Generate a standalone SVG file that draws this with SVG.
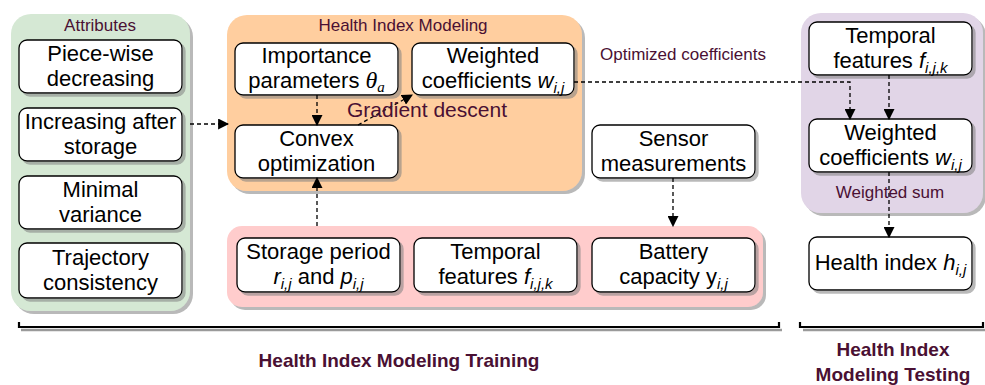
<svg xmlns="http://www.w3.org/2000/svg" width="985" height="385" viewBox="0 0 985 385">
<defs>
<filter id="sh" x="-5%" y="-5%" width="115%" height="120%">
<feDropShadow dx="3" dy="3" stdDeviation="0.4" flood-color="#808080" flood-opacity="0.55"/>
</filter>
<marker id="ahb" viewBox="0 0 10 10" refX="9" refY="5" markerWidth="11" markerHeight="11" markerUnits="userSpaceOnUse" orient="auto">
<path d="M0,0 L10,5 L0,10 z" fill="#000"/>
</marker>
</defs>
<style>
.node{fill:#fff;stroke:#000;stroke-width:1.3;filter:url(#sh)}
.t{font-family:"Liberation Sans",Arial,sans-serif;font-size:22px;fill:#000;text-anchor:middle}
.lab{font-family:"Liberation Sans",Arial,sans-serif;font-size:17px;fill:#4a1033;text-anchor:middle}
.big{font-family:"Liberation Sans",Arial,sans-serif;font-size:19px;font-weight:bold;fill:#4a1033;text-anchor:middle}
.it{font-style:italic}
.sub{font-style:italic;font-size:15px}
.math{font-family:"Liberation Serif","DejaVu Serif",serif;font-style:italic}
.conn{fill:none;stroke:#000;stroke-width:1.3;stroke-dasharray:4 3;marker-end:url(#ahb)}
.br{fill:none;stroke:#000;stroke-width:2.2}
.brs{fill:none;stroke:#9a9a9a;stroke-width:2.6}
</style>

<!-- containers -->
<g id="attributes">
<rect x="11" y="14" width="179" height="297" rx="20" fill="#d5e8d4" filter="url(#sh)"/>
<text class="lab" x="100" y="31">Attributes</text>
</g>
<g id="health-index-modeling">
<rect x="227" y="15" width="355" height="176" rx="20" fill="#ffce9f" filter="url(#sh)"/>
<text class="lab" x="403" y="31">Health Index Modeling</text>
</g>
<g id="data-group">
<rect x="227" y="226" width="536" height="81" rx="15" fill="#ffcccc" filter="url(#sh)"/>
</g>
<g id="testing-group">
<rect x="801" y="13" width="182" height="200" rx="20" fill="#e1d5e7" filter="url(#sh)"/>
</g>

<!-- attribute nodes -->
<g id="piecewise">
<rect class="node" x="19" y="40" width="163" height="53" rx="8"/>
<text class="t" x="100.5" y="61">Piece-wise</text>
<text class="t" x="100.5" y="86">decreasing</text>
</g>
<g id="increasing">
<rect class="node" x="19" y="108" width="163" height="53" rx="8"/>
<text class="t" x="100.5" y="129">Increasing after</text>
<text class="t" x="100.5" y="154">storage</text>
</g>
<g id="minimal">
<rect class="node" x="19" y="176" width="163" height="53" rx="8"/>
<text class="t" x="100.5" y="197">Minimal</text>
<text class="t" x="100.5" y="222">variance</text>
</g>
<g id="trajectory">
<rect class="node" x="19" y="243" width="163" height="55" rx="8"/>
<text class="t" x="100.5" y="265">Trajectory</text>
<text class="t" x="100.5" y="290">consistency</text>
</g>

<!-- modeling nodes -->
<g id="importance">
<rect class="node" x="235" y="43" width="163" height="52" rx="8"/>
<text class="t" x="316.5" y="63">Importance</text>
<text class="t" x="316.5" y="88">parameters <tspan class="math" font-size="24">θ</tspan><tspan class="math" font-size="15" dy="4">a</tspan></text>
</g>
<g id="weighted">
<rect class="node" x="412" y="43" width="162" height="52" rx="8"/>
<text class="t" x="493" y="63">Weighted</text>
<text class="t" x="493" y="88">coefficients <tspan class="it">w</tspan><tspan class="sub" dy="5">i,j</tspan></text>
</g>
<g id="convex">
<rect class="node" x="235" y="125" width="163" height="53" rx="8"/>
<text class="t" x="316.5" y="146">Convex</text>
<text class="t" x="316.5" y="171">optimization</text>
</g>
<g id="sensor">
<rect class="node" x="592" y="125" width="163" height="53" rx="8"/>
<text class="t" x="673.5" y="146">Sensor</text>
<text class="t" x="673.5" y="171">measurements</text>
</g>

<!-- data nodes -->
<g id="storage">
<rect class="node" x="237" y="238" width="163" height="54" rx="8"/>
<text class="t" x="318.5" y="259">Storage period</text>
<text class="t" x="318.5" y="284"><tspan class="it">r</tspan><tspan class="sub" dy="5">i,j</tspan><tspan dy="-5"> and </tspan><tspan class="it">p</tspan><tspan class="sub" dy="5">i,j</tspan></text>
</g>
<g id="temporal">
<rect class="node" x="414" y="238" width="163" height="54" rx="8"/>
<text class="t" x="495.5" y="259">Temporal</text>
<text class="t" x="495.5" y="284">features <tspan class="it">f</tspan><tspan class="sub" dy="5">i,j,k</tspan></text>
</g>
<g id="battery">
<rect class="node" x="592" y="238" width="163" height="54" rx="8"/>
<text class="t" x="673.5" y="259">Battery</text>
<text class="t" x="673.5" y="284">capacity y<tspan class="sub" dy="5">i,j</tspan></text>
</g>

<!-- testing nodes -->
<g id="temporal-test">
<rect class="node" x="809" y="22" width="163" height="53" rx="8"/>
<text class="t" x="890.5" y="43">Temporal</text>
<text class="t" x="890.5" y="68">features <tspan class="it">f</tspan><tspan class="sub" dy="5">i,j,k</tspan></text>
</g>
<g id="weighted-test">
<rect class="node" x="809" y="119" width="163" height="53" rx="8"/>
<text class="t" x="890.5" y="140">Weighted</text>
<text class="t" x="890.5" y="165">coefficients <tspan class="it">w</tspan><tspan class="sub" dy="5">i,j</tspan></text>
</g>
<g id="health-index">
<rect class="node" x="809" y="237" width="163" height="53" rx="8"/>
<text class="t" x="890.5" y="270">Health index <tspan class="it">h</tspan><tspan class="sub" dy="5">i,j</tspan></text>
</g>

<!-- connectors -->
<g id="connectors">
<path class="conn" d="M190,124 H228"/>
<path class="conn" d="M317,95 V125"/>
<path class="conn" d="M358,125 L412,95"/>
<path class="conn" d="M574,82 H850 V119"/>
<path class="conn" d="M889,75 V119"/>
<path class="conn" d="M889,172 V237"/>
<path class="conn" d="M673,178 V226"/>
<path class="conn" d="M317,226 V178"/>
</g>

<!-- edge labels -->
<text class="lab" x="427" y="117" style="font-size:21px">Gradient descent</text>
<text class="lab" x="683" y="60">Optimized coefficients</text>
<text class="lab" x="890" y="198">Weighted sum</text>

<!-- brackets -->
<g id="brackets">
<path class="brs" d="M21,330 H782"/>
<path class="brs" d="M803,330 H985"/>
<path class="br" d="M19,322 V327 H779 V322"/>
<path class="br" d="M800,322 V327 H983 V322"/>
<text class="big" x="399" y="367">Health Index Modeling Training</text>
<text class="big" x="893" y="356">Health Index</text>
<text class="big" x="893" y="381">Modeling Testing</text>
</g>
</svg>
